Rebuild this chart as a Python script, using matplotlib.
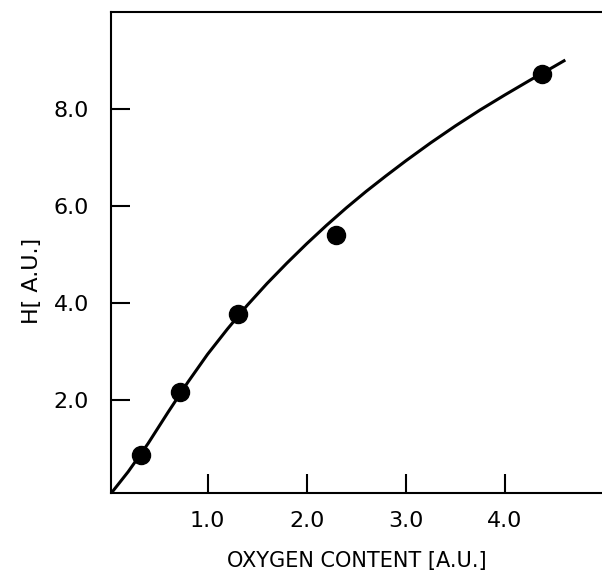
import matplotlib
matplotlib.use("Agg")
import matplotlib.pyplot as plt
import numpy as np

# measured points
oxygen = [0.33, 0.72, 1.31, 2.30, 4.37]
h_val = [0.87, 2.17, 3.77, 5.40, 8.73]

curve_x = [0.03, 0.20, 0.40, 0.60, 0.80, 1.00, 1.20, 1.40, 1.60, 1.80, 2.00,
           2.20, 2.40, 2.60, 2.80, 3.00, 3.25, 3.50, 3.75, 4.00, 4.25, 4.50, 4.61]
curve_y = [0.08, 0.52, 1.10, 1.74, 2.36, 2.94, 3.46, 3.95, 4.40, 4.82, 5.22,
           5.60, 5.96, 6.30, 6.62, 6.93, 7.30, 7.65, 7.98, 8.29, 8.59, 8.88, 9.01]

xticks = [1.0, 2.0, 3.0, 4.0]
yticks = [2.0, 4.0, 6.0, 8.0]

fig = plt.figure(figsize=(6.02, 5.73), dpi=100)
ax = fig.add_axes([0.185, 0.1396, 0.815, 0.8394])

ax.plot(curve_x, curve_y, color="black", lw=2.2, solid_capstyle="butt",
        solid_joinstyle="round")
ax.plot(oxygen, h_val, "o", color="black", markersize=13)

ax.set_xlim(0.03, 4.98)
ax.set_ylim(0.08, 10.0)

ax.spines["right"].set_visible(False)
for s in ["left", "bottom", "top"]:
    ax.spines[s].set_linewidth(1.5)

ax.set_xticks(xticks)
ax.set_xticklabels([f"{v:.1f}" for v in xticks])
ax.set_yticks(yticks)
ax.set_yticklabels([f"{v:.1f}" for v in yticks])
ax.tick_params(axis="x", direction="in", length=14, width=1.5, pad=13, labelsize=16)
ax.tick_params(axis="y", direction="in", length=14, width=1.5, pad=16, labelsize=16)
ax.tick_params(top=False, right=False)

ax.set_xlabel("OXYGEN CONTENT [A.U.]", fontsize=15)
ax.xaxis.set_label_coords(0.5, -0.12)
ax.set_ylabel("H[ A.U.]", fontsize=16)
ax.yaxis.set_label_coords(-0.142, 0.44)

fig.savefig("out.png", dpi=100)
